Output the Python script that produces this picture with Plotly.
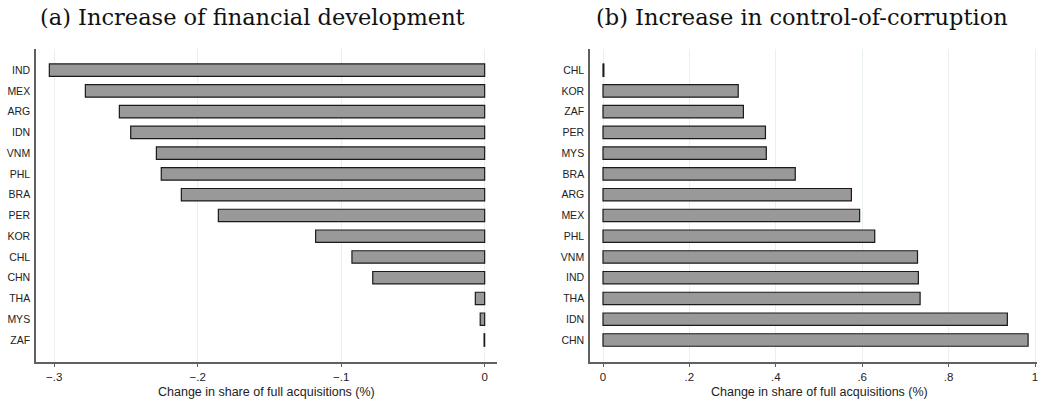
import plotly.graph_objects as go

# Panel (a): increase of financial development
fin_countries = ["IND", "MEX", "ARG", "IDN", "VNM", "PHL", "BRA", "PER", "KOR", "CHL", "CHN", "THA", "MYS", "ZAF"]
fin_values = [-0.3034, -0.2783, -0.2546, -0.2467, -0.2288, -0.2254, -0.2114, -0.1856, -0.1178, -0.0925, -0.0780, -0.0065, -0.0031, -0.0004]

# Panel (b): increase in control-of-corruption
cor_countries = ["CHL", "KOR", "ZAF", "PER", "MYS", "BRA", "ARG", "MEX", "PHL", "VNM", "IND", "THA", "IDN", "CHN"]
cor_values = [0.002, 0.313, 0.325, 0.376, 0.378, 0.445, 0.575, 0.594, 0.629, 0.728, 0.730, 0.734, 0.936, 0.984]

fin_tickvals = [-0.3, -0.2, -0.1, 0]
fin_ticktext = ["\u2212.3", "\u2212.2", "\u2212.1", "0"]
cor_tickvals = [0, 0.2, 0.4, 0.6, 0.8, 1]
cor_ticktext = ["0", ".2", ".4", ".6", ".8", "1"]

titles = ["(a) Increase of financial development", "(b) Increase in control-of-corruption"]
xlabel = "Change in share of full acquisitions (%)"

W, H = 1038, 401
BAR_FILL = "#999999"
BAR_LINE = "#1a1a1a"
AXIS_COLOR = "#606060"
GRID_COLOR = "#e8f0f1"
TICK_FONT = dict(family="Liberation Sans", size=10.5, color="#222222")
XTITLE_FONT = dict(family="Liberation Sans", size=12.5, color="#222222")
XTICK_FONT = dict(family="Liberation Sans", size=11.5, color="#222222")
TITLE_FONT = dict(family="DejaVu Serif", size=22.5, color="#111111")

fig = go.Figure()
fig.add_trace(go.Bar(
    x=fin_values, y=fin_countries, orientation="h", xaxis="x", yaxis="y",
    marker=dict(color=BAR_FILL, line=dict(color=BAR_LINE, width=1.2)),
    width=0.6, showlegend=False,
))
fig.add_trace(go.Bar(
    x=cor_values, y=cor_countries, orientation="h", xaxis="x2", yaxis="y2",
    marker=dict(color=BAR_FILL, line=dict(color=BAR_LINE, width=1.2)),
    width=0.6, showlegend=False,
))

ydom = [(H - 362) / H, (H - 49) / H]

def xaxis_common(dom, rng, tv, tt):
    return dict(
        domain=dom, range=rng, tickvals=tv, ticktext=tt, automargin=False,
        showgrid=True, gridcolor=GRID_COLOR, gridwidth=1,
        zeroline=False, showline=True, linecolor=AXIS_COLOR, linewidth=1.5,
        ticks="outside", ticklen=3, tickwidth=1.2, tickcolor=AXIS_COLOR,
        tickfont=XTICK_FONT, ticklabeloverflow="allow",
    )

def yaxis_common(anchor, cats):
    return dict(
        domain=ydom, anchor=anchor, type="category", automargin=False,
        categoryorder="array", categoryarray=cats,
        range=[len(cats) - 1 + 1.06, -1.02],
        showgrid=False, zeroline=False, showline=True,
        linecolor=AXIS_COLOR, linewidth=1.5, ticks="",
        tickfont=TICK_FONT, ticklabelstandoff=2,
    )

def text_ann(text, xpx, ypx, font):
    return dict(text=text, x=xpx / W, y=1 - ypx / H, xref="paper", yref="paper",
                xanchor="center", yanchor="middle", showarrow=False, font=font)

fig.update_layout(
    width=W, height=H,
    margin=dict(l=0, r=0, t=0, b=0),
    paper_bgcolor="white", plot_bgcolor="white",
    bargap=0.4,
    xaxis=xaxis_common([36 / W, 497 / W], [-0.3127, 0.0086], fin_tickvals, fin_ticktext) | dict(anchor="y"),
    yaxis=yaxis_common("x", fin_countries),
    xaxis2=xaxis_common([590 / W, 1037 / W], [-0.0301, 1.0046], cor_tickvals, cor_ticktext) | dict(anchor="y2"),
    yaxis2=yaxis_common("x2", cor_countries),
    annotations=[
        text_ann(titles[0], 252, 17, TITLE_FONT),
        text_ann(titles[1], 802, 17, TITLE_FONT),
        text_ann(xlabel, 266.5, 391.5, XTITLE_FONT),
        text_ann(xlabel, 819, 391.5, XTITLE_FONT),
    ],
)

fig.write_html(
    "out.html",
    config={"displayModeBar": False},
    post_script="document.body.style.margin='0';document.body.style.padding='0';",
)
